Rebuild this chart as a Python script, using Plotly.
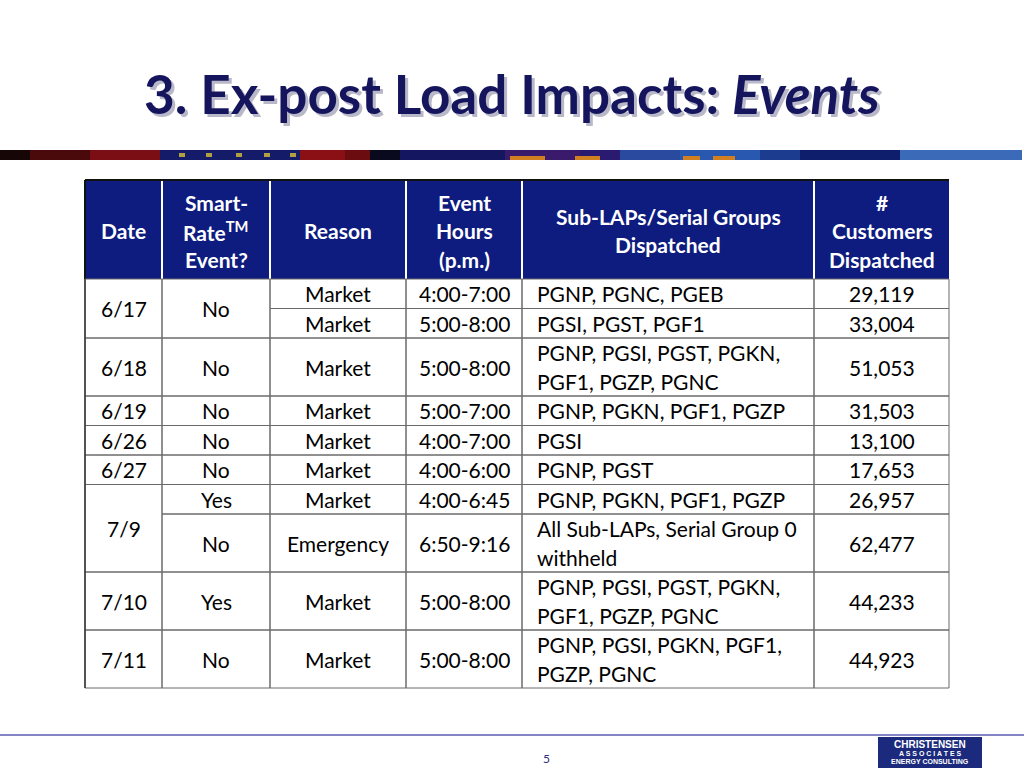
import plotly.graph_objects as go

# ---------------- data ----------------
title_main = "3. Ex-post Load Impacts: "
title_em = "Events"
headers = ["Date", "Smart-<br>Rate<sup>TM</sup><br>Event?", "Reason",
           "Event<br>Hours<br>(p.m.)", "Sub-LAPs/Serial Groups<br>Dispatched",
           "#<br>Customers<br>Dispatched"]
date_groups = ["6/17", "6/18", "6/19", "6/26", "6/27", "7/9", "7/10", "7/11"]
date_group_rows = [2, 1, 1, 1, 1, 2, 1, 1]
smart_groups = ["No", "No", "No", "No", "No", "Yes", "No", "Yes", "No"]
smart_group_rows = [2, 1, 1, 1, 1, 1, 1, 1, 1]
reasons = ["Market", "Market", "Market", "Market", "Market", "Market",
           "Market", "Emergency", "Market", "Market"]
hours = ["4:00-7:00", "5:00-8:00", "5:00-8:00", "5:00-7:00", "4:00-7:00",
         "4:00-6:00", "4:00-6:45", "6:50-9:16", "5:00-8:00", "5:00-8:00"]
sub_laps = ["PGNP, PGNC, PGEB",
            "PGSI, PGST, PGF1",
            "PGNP, PGSI, PGST, PGKN,<br>PGF1, PGZP, PGNC",
            "PGNP, PGKN, PGF1, PGZP",
            "PGSI",
            "PGNP, PGST",
            "PGNP, PGKN, PGF1, PGZP",
            "All Sub-LAPs, Serial Group 0<br>withheld",
            "PGNP, PGSI, PGST, PGKN,<br>PGF1, PGZP, PGNC",
            "PGNP, PGSI, PGKN, PGF1,<br>PGZP, PGNC"]
customers = ["29,119", "33,004", "51,053", "31,503", "13,100", "17,653",
             "26,957", "62,477", "44,233", "44,923"]
page_number = "5"
logo_lines = ["CHRISTENSEN", "A S S O C I A T E S", "ENERGY CONSULTING"]

# ---------------- layout constants ----------------
W, H = 1024, 768
FONT = "Lato"
NAVY = "#0d1c7e"
TITLE_COL = "#15155e"
GRID = "#6a6a6a"
col_edges = [85, 162, 270, 406, 522, 814, 949]
header_top, header_bottom = 180, 279
fs = 21
pitch = 29.0
header_pitch = 28.5

def row_height(text):
    n = text.count("<br>") + 1
    return 29.5 if n == 1 else 58.0

row_tops = [header_bottom]
for t in sub_laps:
    row_tops.append(row_tops[-1] + row_height(t))

fig = go.Figure()
fig.add_trace(go.Scatter(x=[0, W], y=[0, H], mode="markers",
                         marker=dict(opacity=0), hoverinfo="skip", showlegend=False))

shapes = []
ann = []

def rect(x0, y0, x1, y1, fill=None, line_color=None, lw=0, layer="above"):
    shapes.append(dict(type="rect", xref="x", yref="y", x0=x0, y0=y0, x1=x1, y1=y1,
                       fillcolor=fill if fill else "rgba(0,0,0,0)",
                       line=dict(color=line_color if line_color else "rgba(0,0,0,0)", width=lw),
                       layer=layer))

def line(x0, y0, x1, y1, color, w):
    shapes.append(dict(type="line", xref="x", yref="y", x0=x0, y0=y0, x1=x1, y1=y1,
                       line=dict(color=color, width=w)))

def text(x, y, s, size=fs, color="black", anchor="center", bold=False, family=FONT, lp=pitch):
    parts = s.split("<br>")
    n = len(parts)
    for k, p in enumerate(parts):
        yy = y + (k - (n - 1) / 2) * lp
        if bold:
            p = "<b>" + p + "</b>"
        ann.append(dict(x=x, y=yy, xref="x", yref="y", text=p, showarrow=False,
                        xanchor=anchor, yanchor="middle",
                        font=dict(family=family, size=size, color=color)))

# ---------------- decorative band ----------------
band = [(0, 30, "#170606"), (30, 90, "#4a0a0c"), (90, 160, "#7a0e14"),
        (160, 300, "#141c6a"), (300, 345, "#8a1016"), (345, 370, "#6a0c10"),
        (370, 400, "#0a0a1e"), (400, 505, "#141660"), (505, 580, "#3a1a6a"),
        (580, 620, "#2a1a70"), (620, 680, "#2a4aa0"), (680, 760, "#2858b0"),
        (760, 800, "#1c3c90"), (800, 900, "#0e1e6c"), (900, 1022, "#3a6ab8")]
for x0, x1, c in band:
    rect(x0, 150, x1, 160, fill=c, layer="below")
for xs in [182, 209, 239, 267, 293]:
    rect(xs - 3, 153, xs + 3, 157, fill="#b0a040", layer="above")
for x0, x1 in [(510, 545), (575, 600), (683, 700), (713, 735)]:
    rect(x0, 156, x1, 160, fill="#d08020", layer="above")

# ---------------- title ----------------
title_html = "<b>" + title_main + "<i>" + title_em + "</i></b>"
ann.append(dict(x=515, y=96, xref="x", yref="y", text=title_html, showarrow=False,
                xanchor="center", yanchor="middle",
                font=dict(family=FONT, size=53, color="#b8b8c8")))
ann.append(dict(x=512, y=93, xref="x", yref="y", text=title_html, showarrow=False,
                xanchor="center", yanchor="middle",
                font=dict(family=FONT, size=53, color=TITLE_COL)))

# ---------------- table header ----------------
rect(col_edges[0], header_top, col_edges[-1], header_bottom, fill=NAVY, layer="below")
for x in col_edges[1:-1]:
    line(x, header_top, x, header_bottom, "white", 2)
line(col_edges[0], header_top, col_edges[-1], header_top, "#111111", 2)
line(col_edges[0], header_top, col_edges[0], header_bottom, "#111111", 2)
for i, h in enumerate(headers):
    cx = (col_edges[i] + col_edges[i + 1]) / 2
    text(cx, (header_top + header_bottom) / 2 + 1, h, color="white", bold=True, lp=header_pitch)

# ---------------- body ----------------
def cell(ci, r0, nrows, s, anchor="center"):
    y0, y1 = row_tops[r0], row_tops[r0 + nrows]
    rect(col_edges[ci], y0, col_edges[ci + 1], y1, line_color=GRID, lw=1)
    if anchor == "left":
        text(col_edges[ci] + 13, (y0 + y1) / 2, s, anchor="left")
    else:
        text((col_edges[ci] + col_edges[ci + 1]) / 2, (y0 + y1) / 2, s)

r = 0
for d, n in zip(date_groups, date_group_rows):
    cell(0, r, n, d)
    r += n
r = 0
for s, n in zip(smart_groups, smart_group_rows):
    cell(1, r, n, s)
    r += n
for i in range(len(sub_laps)):
    cell(2, i, 1, reasons[i])
    cell(3, i, 1, hours[i])
    cell(4, i, 1, sub_laps[i], anchor="left")
    cell(5, i, 1, customers[i])
line(col_edges[0], header_bottom, col_edges[0], row_tops[-1], "#333333", 1.5)

# ---------------- footer ----------------
line(0, 735, W, 735, "#8585c5", 2)
text(546, 758, page_number, size=12, color="#2e2e78")
rect(878, 737, 982, 768, fill="#1b2a7c", layer="below")
text(930, 744, "<b>" + logo_lines[0] + "</b>", size=10, color="white", family="Liberation Sans")
text(930, 753, "<b>" + logo_lines[1] + "</b>", size=7, color="white", family="Liberation Sans")
text(930, 761, "<b>" + logo_lines[2] + "</b>", size=7, color="white", family="Liberation Sans")

fig.update_layout(
    width=W, height=H, margin=dict(l=0, r=0, t=0, b=0),
    paper_bgcolor="white", plot_bgcolor="white",
    xaxis=dict(range=[0, W], visible=False, fixedrange=True),
    yaxis=dict(range=[H, 0], visible=False, fixedrange=True),
    shapes=shapes, annotations=ann, showlegend=False,
)
fig.write_html("out.html", config={"displayModeBar": False},
               post_script="document.body.style.margin='0';document.body.style.overflow='hidden';")
